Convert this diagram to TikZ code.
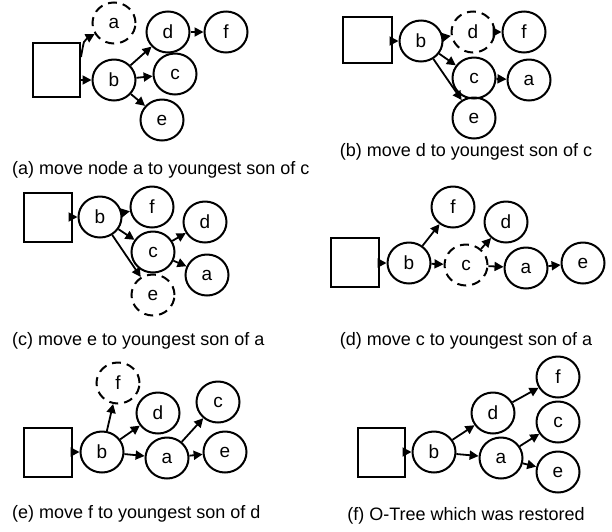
\documentclass[tikz,border=0pt]{standalone}
\usepackage{fontspec}
\setmainfont{Liberation Sans}
\usetikzlibrary{arrows.meta,shapes.geometric}
\begin{document}
\begin{tikzpicture}[x=1pt,y=-1pt,
  nd/.style={ellipse,draw,line width=2pt,minimum width=43pt,minimum height=41pt,inner sep=0pt,font=\fontsize{19}{20}\selectfont},
  dnd/.style={nd,dash pattern=on 9pt off 6pt},
  sq/.style={draw,line width=2pt,minimum width=48pt,minimum height=49pt,inner sep=0pt},
  arr/.style={line width=1.8pt,-{Triangle[length=9pt,width=9pt]}},
  captxt/.style={font=\fontsize{18}{20}\selectfont,inner sep=0pt}]
\useasboundingbox (0,0) rectangle (612,531);
% ---------- (a)
\node[sq,minimum width=47pt,minimum height=54pt] (sqA) at (56.5,70) {};
\node[dnd] (aA) at (114,23) {a};
\node[nd] (dA) at (168,32) {d};
\node[nd] (fA) at (226,32) {f};
\node[nd] (bA) at (114,80) {b};
\node[nd] (cA) at (175,74) {c};
\node[nd] (eA) at (162,120) {e};
\draw[arr] (sqA.east |- bA) -- (bA);
\draw[arr] ([yshift=-15pt]sqA.north east) .. controls (84,40) .. (aA);
\draw[arr] (bA) -- (dA);
\draw[arr] (bA) -- (cA);
\draw[arr] (bA) -- (eA);
\draw[arr] (dA) -- (fA);
\node[captxt,anchor=west] (capA) at (12,170) {(a) move node a to youngest son of c};
% ---------- (b)
\node[sq,minimum width=49pt,minimum height=46pt] (sqB) at (367.5,40) {};
\node[nd] (bB) at (421,41) {b};
\node[dnd] (dB) at (473,32) {d};
\node[nd] (fB) at (524,32) {f};
\node[nd] (cB) at (474,78) {c};
\node[nd] (aB) at (529,80) {a};
\node[nd] (eB) at (474,118) {e};
\draw[arr] (sqB.east |- bB) -- (bB);
\draw[arr] (bB) -- (dB);
\draw[arr] (dB) -- (fB);
\draw[arr] (bB) -- (cB);
\draw[arr] (cB) -- (aB);
\draw[arr] (bB) -- (eB);
\node[captxt] (capB) at (466,152) {(b) move d to youngest son of c};
% ---------- (c)
\node[sq] (sqC) at (47.5,217.5) {};
\node[nd] (bC) at (100,217) {b};
\node[nd] (fC) at (152,207) {f};
\node[nd] (dC) at (205,222) {d};
\node[nd] (cC) at (153,252) {c};
\node[nd] (aC) at (207,275) {a};
\node[dnd] (eC) at (153,295) {e};
\draw[arr] (sqC.east |- bC) -- (bC);
\draw[arr] (bC) -- (fC);
\draw[arr] (bC) -- (cC);
\draw[arr] (cC) -- (dC);
\draw[arr] (cC) -- (aC);
\draw[arr] (bC) -- (eC);
\node[captxt,anchor=west] (capC) at (12,341) {(c) move e to youngest son of a};
% ---------- (d)
\node[sq] (sqD) at (355,262.5) {};
\node[nd] (bD) at (409,263) {b};
\node[nd] (fD) at (453,207) {f};
\node[nd] (dD) at (506,222) {d};
\node[dnd] (cD) at (466,265) {c};
\node[nd] (aD) at (526,268) {a};
\node[nd] (eD) at (583,263) {e};
\draw[arr] (sqD.east |- bD) -- (bD);
\draw[arr] (bD) -- (fD);
\draw[arr] (bD) -- (cD);
\draw[arr] (cD) -- (dD);
\draw[arr] (cD) -- (aD);
\draw[arr] (aD) -- (eD);
\node[captxt] (capD) at (466,341) {(d) move c to youngest son of a};
% ---------- (e)
\node[sq] (sqE) at (47.5,452.5) {};
\node[nd] (bE) at (102,452) {b};
\node[dnd] (fE) at (118,383) {f};
\node[nd] (dE) at (158,413) {d};
\node[nd] (cE) at (218,402) {c};
\node[nd] (aE) at (167,458) {a};
\node[nd] (eE) at (225,452) {e};
\draw[arr] (sqE.east |- bE) -- (bE);
\draw[arr] (bE) -- (fE);
\draw[arr] (bE) -- (dE);
\draw[arr] (bE) -- (aE);
\draw[arr] (aE) -- (cE);
\draw[arr] (aE) -- (eE);
\node[captxt,anchor=west] (capE) at (12,514) {(e) move f to youngest son of d};
% ---------- (f)
\node[sq,minimum width=47pt] (sqF) at (381.5,452.5) {};
\node[nd] (bF) at (434,452) {b};
\node[nd] (dF) at (493,413) {d};
\node[nd] (aF) at (501,458) {a};
\node[nd] (fF) at (558,377) {f};
\node[nd] (cF) at (558,422) {c};
\node[nd] (eF) at (558,472) {e};
\draw[arr] (sqF.east |- bF) -- (bF);
\draw[arr] (bF) -- (dF);
\draw[arr] (bF) -- (aF);
\draw[arr] (dF) -- (fF);
\draw[arr] (aF) -- (cF);
\draw[arr] (aF) -- (eF);
\node[captxt] (capF) at (466,516) {(f) O-Tree which was restored};
\end{tikzpicture}
\end{document}
